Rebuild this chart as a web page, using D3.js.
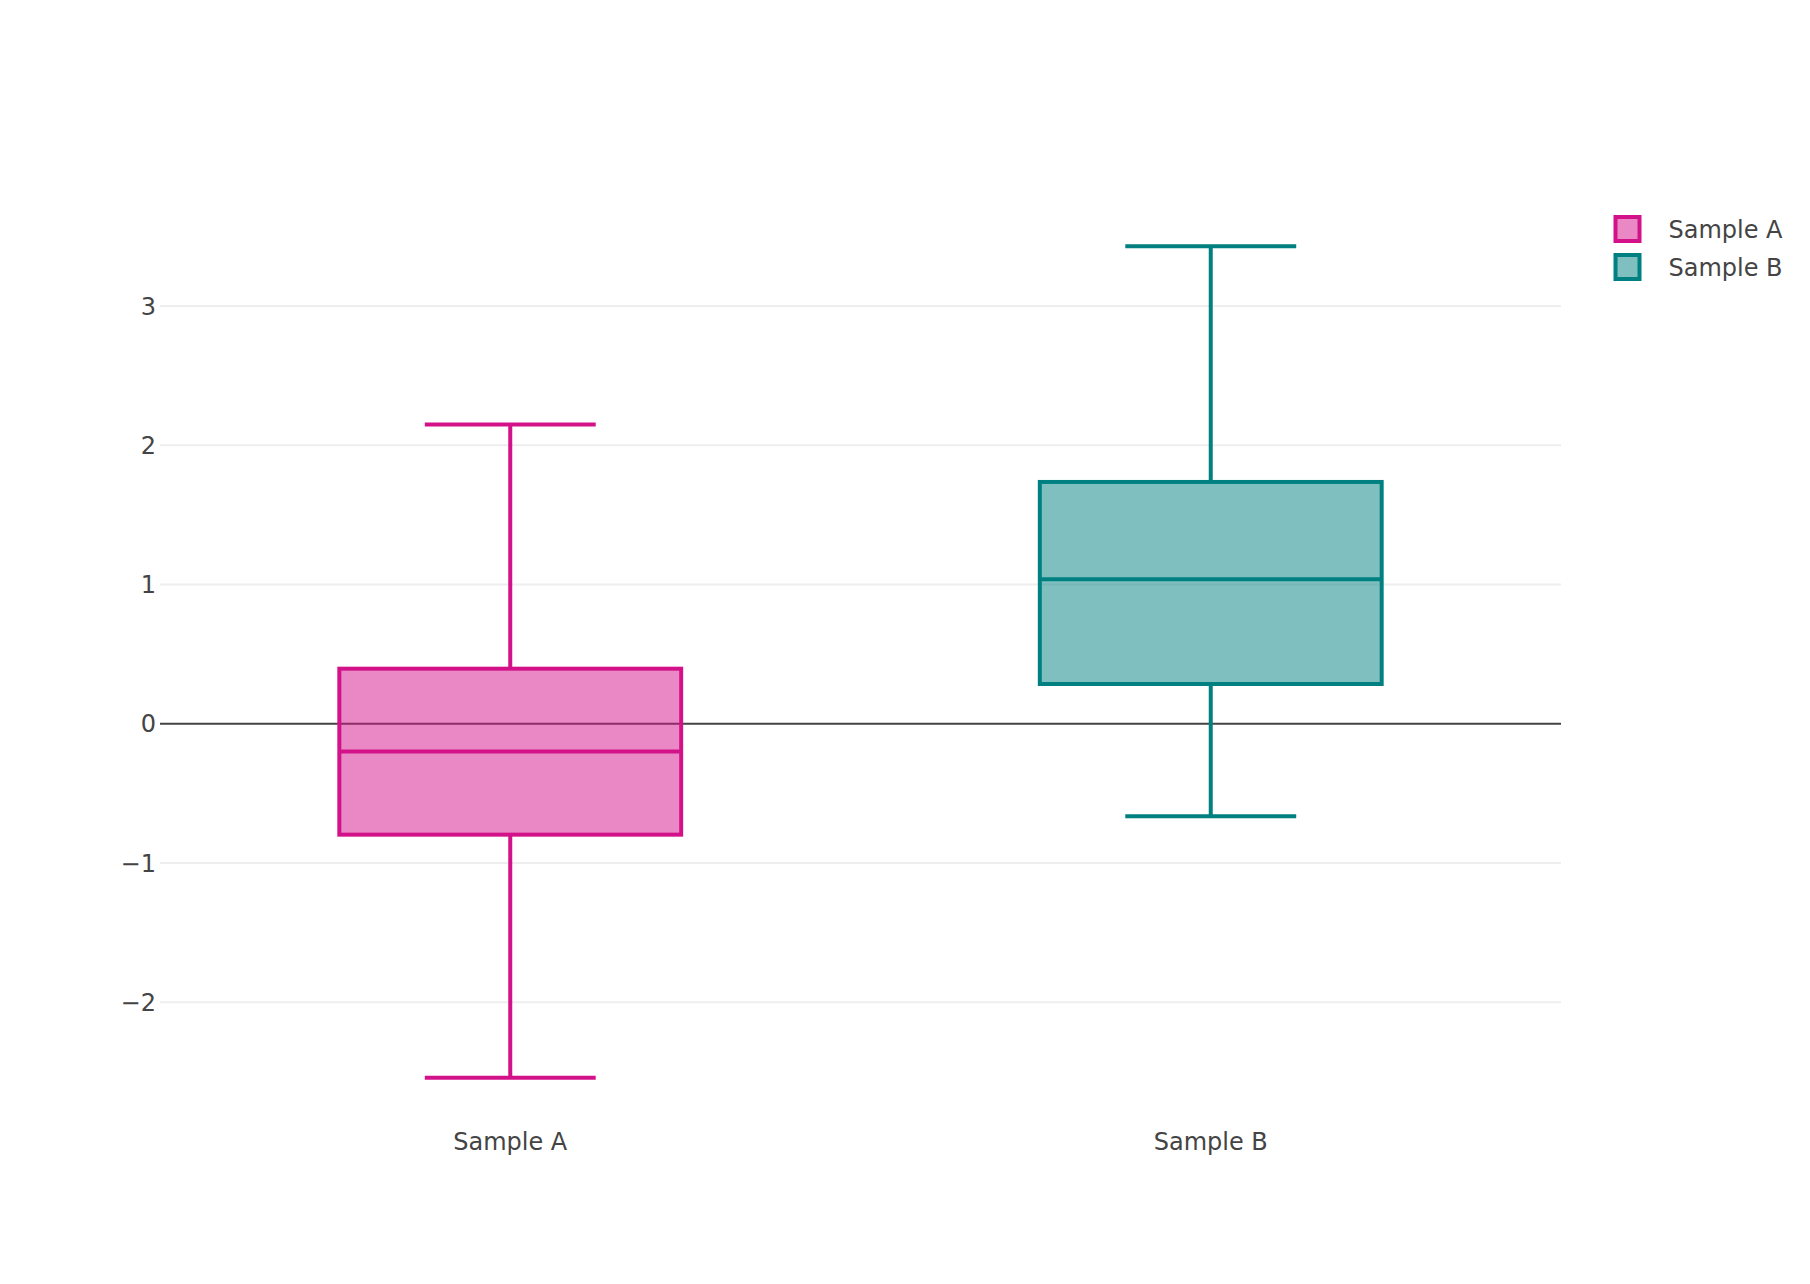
<!DOCTYPE html>
<html>
<head>
<meta charset="utf-8">
<script src="https://cdn.jsdelivr.net/npm/d3@7"></script>
<style>
  html, body { margin: 0; padding: 0; background: #fff; }
  svg { display: block; }
  text { font-family: "DejaVu Sans", Verdana, sans-serif; fill: #444; }
</style>
</head>
<body>
<svg id="chart" width="1810" height="1284"></svg>
<script>
// ---- Data ----
const categories = ["Sample A", "Sample B"];
const lowerWhisker = [-2.543, -0.664];
const q1 = [-0.797, 0.285];
const median = [-0.199, 1.037];
const q3 = [0.395, 1.736];
const upperWhisker = [2.149, 3.429];
const yTicks = [-2, -1, 0, 1, 2, 3];
const strokeColors = ["#d3128a", "#008080"];

// ---- Layout ----
const W = 1810, H = 1284;
const plot = { left: 160, right: 1561, top: 200, bottom: 1124 };
const fontSize = 24;

const svg = d3.select("#chart");
svg.append("rect").attr("width", W).attr("height", H).attr("fill", "#fff");

const lo = d3.min(lowerWhisker), hi = d3.max(upperWhisker);
const pad = (hi - lo) / 18;
const y = d3.scaleLinear().domain([lo - pad, hi + pad]).range([plot.bottom, plot.top]);
const x = d3.scaleBand().domain(categories).range([plot.left, plot.right]).padding(0);

const boxW = x.bandwidth() * 0.488;
const capW = boxW * 0.5;

// Gridlines
const grid = svg.append("g");
grid.selectAll("line").data(yTicks.filter(d => d !== 0)).join("line")
  .attr("x1", plot.left).attr("x2", plot.right)
  .attr("y1", d => y(d)).attr("y2", d => y(d))
  .attr("stroke", "#eee").attr("stroke-width", 2);

// Zero line
svg.append("line")
  .attr("x1", plot.left).attr("x2", plot.right)
  .attr("y1", y(0)).attr("y2", y(0))
  .attr("stroke", "#444").attr("stroke-width", 2);

// Y axis labels
const fmt = d3.format("d");
svg.append("g").selectAll("text").data(yTicks).join("text")
  .attr("x", plot.left - 4)
  .attr("y", d => y(d))
  .attr("dy", "0.36em")
  .attr("text-anchor", "end")
  .attr("font-size", fontSize)
  .text(d => fmt(d));

// X axis labels
svg.append("g").selectAll("text").data(categories).join("text")
  .attr("x", d => x(d) + x.bandwidth() / 2)
  .attr("y", 1150)
  .attr("text-anchor", "middle")
  .attr("font-size", fontSize)
  .text(d => d);

// Boxes
const boxes = svg.append("g").selectAll("g").data(categories).join("g");
boxes.each(function(cat, i) {
  const g = d3.select(this);
  const cx = x(cat) + x.bandwidth() / 2;
  const col = strokeColors[i];
  // whisker stems
  g.append("line").attr("x1", cx).attr("x2", cx)
    .attr("y1", y(upperWhisker[i])).attr("y2", y(q3[i]))
    .attr("stroke", col).attr("stroke-width", 4);
  g.append("line").attr("x1", cx).attr("x2", cx)
    .attr("y1", y(q1[i])).attr("y2", y(lowerWhisker[i]))
    .attr("stroke", col).attr("stroke-width", 4);
  // caps
  [upperWhisker[i], lowerWhisker[i]].forEach(v => {
    g.append("line").attr("x1", cx - capW / 2).attr("x2", cx + capW / 2)
      .attr("y1", y(v)).attr("y2", y(v))
      .attr("stroke", col).attr("stroke-width", 4);
  });
  // box
  g.append("rect")
    .attr("x", cx - boxW / 2).attr("width", boxW)
    .attr("y", y(q3[i])).attr("height", y(q1[i]) - y(q3[i]))
    .attr("fill", col).attr("fill-opacity", 0.5)
    .attr("stroke", col).attr("stroke-width", 4);
  // median
  g.append("line").attr("x1", cx - boxW / 2).attr("x2", cx + boxW / 2)
    .attr("y1", y(median[i])).attr("y2", y(median[i]))
    .attr("stroke", col).attr("stroke-width", 4);
});

// Legend
const legend = svg.append("g").attr("transform", "translate(1627.5,229)");
const items = legend.selectAll("g").data(categories).join("g")
  .attr("transform", (d, i) => `translate(0,${i * 38})`);
items.append("rect")
  .attr("x", -12).attr("y", -12).attr("width", 24).attr("height", 24)
  .attr("fill", (d, i) => strokeColors[i]).attr("fill-opacity", 0.5)
  .attr("stroke", (d, i) => strokeColors[i]).attr("stroke-width", 4);
items.append("text")
  .attr("x", 41).attr("y", 0).attr("dy", "0.36em")
  .attr("font-size", fontSize)
  .text(d => d);
</script>
</body>
</html>
